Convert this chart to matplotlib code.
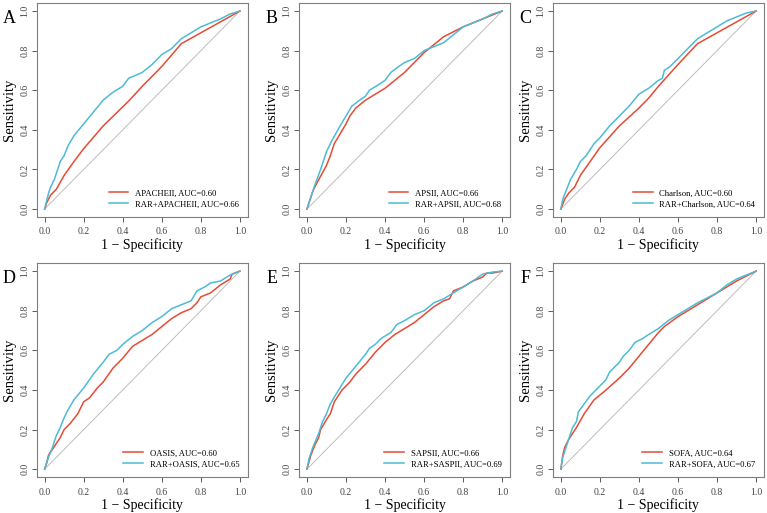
import matplotlib
matplotlib.use("Agg")
import matplotlib.pyplot as plt
import numpy as np

plt.rcParams["font.family"] = ["Liberation Serif", "DejaVu Serif"]

RED = "#E64B35"
BLUE = "#4DBBD5"

letters = ["A", "B", "C", "D", "E", "F"]
base_names = ["APACHEII", "APSII", "Charlson", "OASIS", "SAPSII", "SOFA"]
combo_names = ["RAR+APACHEII", "RAR+APSII", "RAR+Charlson", "RAR+OASIS", "RAR+SASPII", "RAR+SOFA"]
base_auc = [0.60, 0.66, 0.60, 0.60, 0.66, 0.64]
combo_auc = [0.66, 0.68, 0.64, 0.65, 0.69, 0.67]

# ROC points: (1 - specificity, sensitivity)
apache_fpr = [0, 0.01, 0.03, 0.06, 0.1, 0.15, 0.2, 0.3, 0.43, 0.5, 0.6, 0.7, 0.8, 0.9, 1]
apache_tpr = [0, 0.03, 0.07, 0.10, 0.17, 0.24, 0.305, 0.42, 0.545, 0.62, 0.72, 0.835, 0.89, 0.945, 1]
rar_apache_fpr = [0, 0.02, 0.03, 0.05, 0.08, 0.1, 0.12, 0.15, 0.2, 0.25, 0.3, 0.35, 0.4, 0.43, 0.5,
                  0.55, 0.6, 0.65, 0.7, 0.75, 0.8, 0.85, 0.9, 0.95, 1]
rar_apache_tpr = [0, 0.08, 0.11, 0.15, 0.24, 0.27, 0.32, 0.37, 0.43, 0.49, 0.55, 0.59, 0.62, 0.66, 0.69,
                  0.73, 0.78, 0.81, 0.86, 0.89, 0.92, 0.94, 0.96, 0.985, 1]

apsii_fpr = [0, 0.01, 0.03, 0.05, 0.1, 0.12, 0.14, 0.17, 0.2, 0.22, 0.25, 0.3, 0.35, 0.4, 0.45, 0.5,
             0.55, 0.6, 0.65, 0.7, 0.8, 0.9, 0.95, 1]
apsii_tpr = [0, 0.03, 0.09, 0.13, 0.22, 0.27, 0.33, 0.38, 0.43, 0.47, 0.51, 0.55, 0.58, 0.61, 0.65, 0.69,
             0.74, 0.79, 0.83, 0.87, 0.92, 0.96, 0.98, 1]
rar_apsii_fpr = [0, 0.02, 0.04, 0.07, 0.1, 0.13, 0.17, 0.2, 0.23, 0.27, 0.3, 0.32, 0.37, 0.4, 0.43, 0.47,
                 0.5, 0.55, 0.6, 0.65, 0.7, 0.75, 0.8, 0.85, 0.9, 0.95, 1]
rar_apsii_tpr = [0, 0.06, 0.12, 0.2, 0.29, 0.35, 0.42, 0.47, 0.52, 0.55, 0.57, 0.6, 0.63, 0.65, 0.69, 0.72,
                 0.74, 0.76, 0.8, 0.82, 0.84, 0.88, 0.92, 0.94, 0.96, 0.985, 1]

charlson_fpr = [0, 0.02, 0.04, 0.07, 0.1, 0.15, 0.2, 0.3, 0.4, 0.45, 0.5, 0.6, 0.7, 0.8, 0.9, 1]
charlson_tpr = [0, 0.05, 0.08, 0.11, 0.17, 0.24, 0.31, 0.42, 0.51, 0.56, 0.62, 0.73, 0.835, 0.89, 0.945, 1]
rar_charlson_fpr = [0, 0.01, 0.03, 0.05, 0.08, 0.1, 0.13, 0.17, 0.2, 0.25, 0.3, 0.35, 0.4, 0.45, 0.5,
                    0.52, 0.53, 0.56, 0.6, 0.65, 0.7, 0.75, 0.8, 0.85, 0.9, 0.95, 1]
rar_charlson_tpr = [0, 0.05, 0.1, 0.15, 0.2, 0.24, 0.27, 0.33, 0.36, 0.42, 0.47, 0.52, 0.58, 0.61, 0.65,
                    0.66, 0.7, 0.72, 0.76, 0.81, 0.86, 0.89, 0.92, 0.95, 0.97, 0.99, 1]

oasis_fpr = [0, 0.01, 0.02, 0.04, 0.06, 0.08, 0.1, 0.13, 0.17, 0.2, 0.23, 0.27, 0.3, 0.35, 0.4, 0.45,
             0.5, 0.55, 0.6, 0.65, 0.7, 0.75, 0.78, 0.8, 0.85, 0.9, 0.95, 0.96, 1]
oasis_tpr = [0, 0.03, 0.07, 0.10, 0.13, 0.16, 0.2, 0.23, 0.28, 0.34, 0.36, 0.41, 0.44, 0.51, 0.56, 0.62,
             0.65, 0.68, 0.72, 0.76, 0.79, 0.81, 0.84, 0.87, 0.89, 0.93, 0.96, 0.985, 1]
rar_oasis_fpr = [0, 0.02, 0.04, 0.06, 0.08, 0.1, 0.12, 0.15, 0.2, 0.25, 0.3, 0.33, 0.37, 0.4, 0.45, 0.5,
                 0.55, 0.6, 0.65, 0.7, 0.75, 0.78, 0.82, 0.85, 0.9, 0.95, 1]
rar_oasis_tpr = [0, 0.06, 0.11, 0.17, 0.21, 0.26, 0.3, 0.35, 0.41, 0.48, 0.54, 0.58, 0.6, 0.63, 0.67, 0.7,
                 0.74, 0.77, 0.81, 0.83, 0.85, 0.9, 0.92, 0.94, 0.95, 0.98, 1]

sapsii_fpr = [0, 0.02, 0.04, 0.06, 0.07, 0.1, 0.12, 0.14, 0.18, 0.22, 0.25, 0.3, 0.35, 0.4, 0.45, 0.5,
              0.55, 0.6, 0.65, 0.7, 0.73, 0.75, 0.8, 0.85, 0.9, 0.92, 0.95, 1]
sapsii_tpr = [0, 0.07, 0.12, 0.16, 0.2, 0.25, 0.28, 0.34, 0.4, 0.44, 0.48, 0.53, 0.59, 0.64, 0.68, 0.71,
              0.74, 0.78, 0.82, 0.85, 0.86, 0.9, 0.92, 0.95, 0.97, 0.99, 0.99, 1]
rar_sapsii_fpr = [0, 0.01, 0.03, 0.06, 0.08, 0.1, 0.12, 0.15, 0.2, 0.25, 0.3, 0.32, 0.35, 0.38, 0.43,
                  0.46, 0.5, 0.55, 0.6, 0.65, 0.7, 0.75, 0.8, 0.85, 0.9, 0.95, 1]
rar_sapsii_tpr = [0, 0.05, 0.11, 0.18, 0.24, 0.28, 0.33, 0.38, 0.46, 0.52, 0.58, 0.61, 0.63, 0.66, 0.69,
                  0.73, 0.75, 0.78, 0.8, 0.84, 0.86, 0.89, 0.92, 0.95, 0.985, 0.995, 1]

sofa_fpr = [0, 0.01, 0.02, 0.04, 0.08, 0.12, 0.17, 0.22, 0.3, 0.35, 0.4, 0.45, 0.5, 0.53, 0.6, 0.7,
            0.8, 0.9, 1]
sofa_tpr = [0, 0.07, 0.11, 0.15, 0.21, 0.28, 0.35, 0.39, 0.46, 0.51, 0.57, 0.63, 0.69, 0.72, 0.77, 0.83,
            0.89, 0.95, 1]
rar_sofa_fpr = [0, 0.01, 0.03, 0.05, 0.06, 0.08, 0.09, 0.12, 0.15, 0.2, 0.23, 0.25, 0.3, 0.32, 0.35,
                0.38, 0.42, 0.45, 0.5, 0.55, 0.6, 0.65, 0.7, 0.8, 0.85, 0.9, 0.95, 1]
rar_sofa_tpr = [0, 0.06, 0.12, 0.18, 0.21, 0.24, 0.29, 0.33, 0.37, 0.42, 0.45, 0.49, 0.54, 0.57, 0.6,
                0.64, 0.66, 0.68, 0.71, 0.75, 0.78, 0.81, 0.84, 0.89, 0.93, 0.96, 0.98, 1]

base_curves = [(apache_fpr, apache_tpr), (apsii_fpr, apsii_tpr), (charlson_fpr, charlson_tpr),
               (oasis_fpr, oasis_tpr), (sapsii_fpr, sapsii_tpr), (sofa_fpr, sofa_tpr)]
combo_curves = [(rar_apache_fpr, rar_apache_tpr), (rar_apsii_fpr, rar_apsii_tpr),
                (rar_charlson_fpr, rar_charlson_tpr), (rar_oasis_fpr, rar_oasis_tpr),
                (rar_sapsii_fpr, rar_sapsii_tpr), (rar_sofa_fpr, rar_sofa_tpr)]

ticks = [0.0, 0.2, 0.4, 0.6, 0.8, 1.0]

fig = plt.figure(figsize=(7.67, 5.13), dpi=100)

# panel boxes in figure fraction (left, bottom, width, height)
lefts = [0.048, 0.390, 0.721]
bottoms = [0.577, 0.070]
W, H = 0.275, 0.417

for i in range(6):
    r, c = divmod(i, 3)
    ax = fig.add_axes([lefts[c], bottoms[r], W, H])
    ax.plot([0, 1], [0, 1], color="#bdbdbd", lw=0.7)
    ax.plot(*base_curves[i], color=RED, lw=1.1,
            label=f"{base_names[i]}, AUC={base_auc[i]:.2f}")
    ax.plot(*combo_curves[i], color=BLUE, lw=1.1,
            label=f"{combo_names[i]}, AUC={combo_auc[i]:.2f}")
    ax.set_xlim(-0.04, 1.04)
    ax.set_ylim(-0.04, 1.04)
    ax.set_xticks(ticks)
    ax.set_yticks(ticks)
    ax.set_xticklabels([f"{t:.1f}" for t in ticks])
    ax.set_yticklabels([f"{t:.1f}" for t in ticks], rotation=90, va="center")
    ax.tick_params(labelsize=7, colors="#444444", length=3.5, width=0.6)
    ax.tick_params(axis="y", pad=2)
    ax.tick_params(axis="x", pad=4)
    for s in ax.spines.values():
        s.set_color("#7f7f7f")
        s.set_linewidth(0.8)
    ax.set_xlabel("1 \u2212 Specificity", fontsize=10, labelpad=1)
    ax.set_ylabel("Sensitivity", fontsize=10.5, labelpad=3)
    ax.legend(loc="lower right", frameon=False, fontsize=6.2, handlelength=2.3,
              borderaxespad=0.6, labelspacing=0.35)
    fig.text(lefts[c] - 0.036, bottoms[r] + H - 0.03, letters[i], fontsize=13,
             ha="center", va="center")

fig.savefig("out.png", dpi=100)
